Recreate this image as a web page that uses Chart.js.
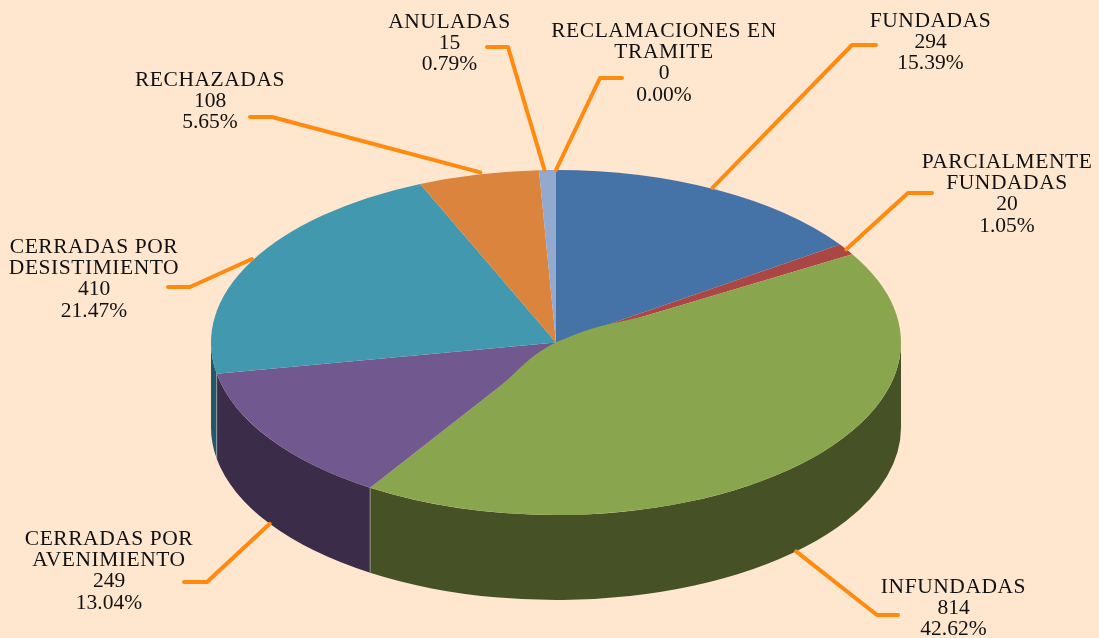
<!DOCTYPE html>
<html>
<head>
<meta charset="utf-8">
<style>
html,body{margin:0;padding:0;background:#FFE6CF;overflow:hidden}
canvas{display:block}
</style>
<script src="https://cdn.jsdelivr.net/npm/chart.js@4"></script>
</head>
<body>
<canvas id="c" width="1099" height="638"></canvas>
<script>
const categories = ["FUNDADAS","PARCIALMENTE FUNDADAS","INFUNDADAS","CERRADAS POR AVENIMIENTO","CERRADAS POR DESISTIMIENTO","RECHAZADAS","ANULADAS","RECLAMACIONES EN TRAMITE"];
const values = [294,20,814,249,410,108,15,0];
const labelLines = [["FUNDADAS"],["PARCIALMENTE","FUNDADAS"],["INFUNDADAS"],["CERRADAS POR","AVENIMIENTO"],["CERRADAS POR","DESISTIMIENTO"],["RECHAZADAS"],["ANULADAS"],["RECLAMACIONES EN","TRAMITE"]];
const topColors = ["#4573A7","#AA4643","#89A54E","#71588F","#4198AF","#DB843D","#93A9CF","#BBCCE0"];
const wallColors = ["#2A4565","#662A28","#465226","#3B2C4A","#235769","#844F25","#58657C","#707A86"];

// Label layout: centre x, first-line mid y; leader elbow, end and anchor nudge
const labelLayout = [
  {cx:930.5, y:21,  elbow:[852,45],  end:[876,45],  nudge:[-4,-2]},
  {cx:1007,  y:162, elbow:[908,193], end:[932,193], nudge:[0,0]},
  {cx:953.5, y:587, elbow:[877,615], end:[898,615], nudge:[0,0]},
  {cx:109,   y:539, elbow:[207,582], end:[184,582], nudge:[0,0]},
  {cx:94,    y:247, elbow:[190,287], end:[168,287], nudge:[0,-2]},
  {cx:210,   y:80,  elbow:[272,117], end:[250,117], nudge:[2,-2]},
  {cx:449.5, y:22,  elbow:[508,47],  end:[487,47],  nudge:[-3,0]},
  {cx:664,   y:31,  elbow:[600,78],  end:[622,78],  nudge:[0,0]}
];
const RADIUS = 345, TILT = 0.5, DEPTH = 85, LINE_H = 21.3;
const FONT = '21.5px "Liberation Serif"';
const total = values.reduce((a,b)=>a+b,0);

const pie3d = {
  id:'pie3d',
  beforeDatasetsDraw(chart){
    const ctx = chart.ctx, arcs = chart.getDatasetMeta(0).data;
    const {x,y,outerRadius:r} = arcs[0];
    arcs.forEach((arc,i)=>{
      const a0 = Math.max(arc.startAngle,0), a1 = Math.min(arc.endAngle,Math.PI);
      if (a1<=a0) return;
      ctx.beginPath();
      ctx.ellipse(x,y,r,r*TILT,0,a0,a1);
      ctx.ellipse(x,y+DEPTH,r,r*TILT,0,a1,a0,true);
      ctx.closePath();
      ctx.fillStyle = wallColors[i];
      ctx.fill();
    });
    // seams between wall panels
    ctx.strokeStyle='rgba(200,200,200,0.55)'; ctx.lineWidth=1;
    arcs.forEach(arc=>{
      const a=arc.endAngle;
      if(a>0 && a<Math.PI){
        const sx=x+r*Math.cos(a), sy=y+r*TILT*Math.sin(a);
        ctx.beginPath();ctx.moveTo(sx,sy);ctx.lineTo(sx,sy+DEPTH);ctx.stroke();
      }
    });
    ctx.save();
    ctx.translate(x,y);ctx.scale(1,TILT);ctx.translate(-x,-y);
  },
  afterDatasetsDraw(chart){
    const ctx = chart.ctx;
    ctx.restore();
    const arcs = chart.getDatasetMeta(0).data;
    const {x,y,outerRadius:r} = arcs[0];
    const pt=(a,t)=>[x+r*t*Math.cos(a), y+r*TILT*t*Math.sin(a)];
    // Large slice swells slightly over its neighbours near the centre
    const big=arcs[2], prev=arcs[1];
    const p2=pt(prev.startAngle,0.19), p3=pt(big.startAngle,0.3), p4=pt(big.endAngle,0.3);
    ctx.beginPath();
    ctx.moveTo(x,y);
    ctx.quadraticCurveTo((x+p2[0])/2+1,(y+p2[1])/2-4,p2[0],p2[1]);
    ctx.lineTo(p3[0],p3[1]);
    ctx.lineTo(p4[0],p4[1]);
    ctx.bezierCurveTo(p4[0]+14,p4[1]-11,(x+p4[0])/2+2,(y+p4[1])/2-10,x,y);
    ctx.closePath();
    ctx.fillStyle=topColors[2];
    ctx.fill();
    // Leaders
    ctx.strokeStyle='#FF8A0F';ctx.lineWidth=4;ctx.lineCap='round';ctx.lineJoin='round';
    arcs.forEach((arc,i)=>{
      const m=(arc.startAngle+arc.endAngle)/2, s=pt(m,1);
      if(Math.sin(m)>0) s[1]+=DEPTH;
      const L=labelLayout[i];
      ctx.beginPath();ctx.moveTo(s[0]+L.nudge[0],s[1]+L.nudge[1]);ctx.lineTo(L.elbow[0],L.elbow[1]);ctx.lineTo(L.end[0],L.end[1]);ctx.stroke();
    });
    // Labels
    ctx.fillStyle='#111';ctx.font=FONT;ctx.textAlign='center';ctx.textBaseline='middle';
    categories.forEach((c,i)=>{
      const L=labelLayout[i];
      labelLines[i].forEach((t,k)=>{
        ctx.letterSpacing='0.55px';
        ctx.fillText(t,L.cx,L.y+k*LINE_H);
      });
      ctx.letterSpacing='0px';
      const n=labelLines[i].length;
      ctx.fillText(String(values[i]),L.cx,L.y+n*LINE_H);
      ctx.fillText((values[i]/total*100).toFixed(2)+'%',L.cx,L.y+(n+1)*LINE_H);
    });
  }
};

new Chart(document.getElementById('c'),{
  type:'pie',
  data:{labels:categories,datasets:[{data:values,backgroundColor:topColors,borderWidth:0,clip:false}]},
  options:{
    responsive:false,animation:false,radius:RADIUS,
    layout:{padding:{left:13,top:47}},
    plugins:{legend:{display:false},tooltip:{enabled:false}}
  },
  plugins:[pie3d]
});
</script>
</body>
</html>
